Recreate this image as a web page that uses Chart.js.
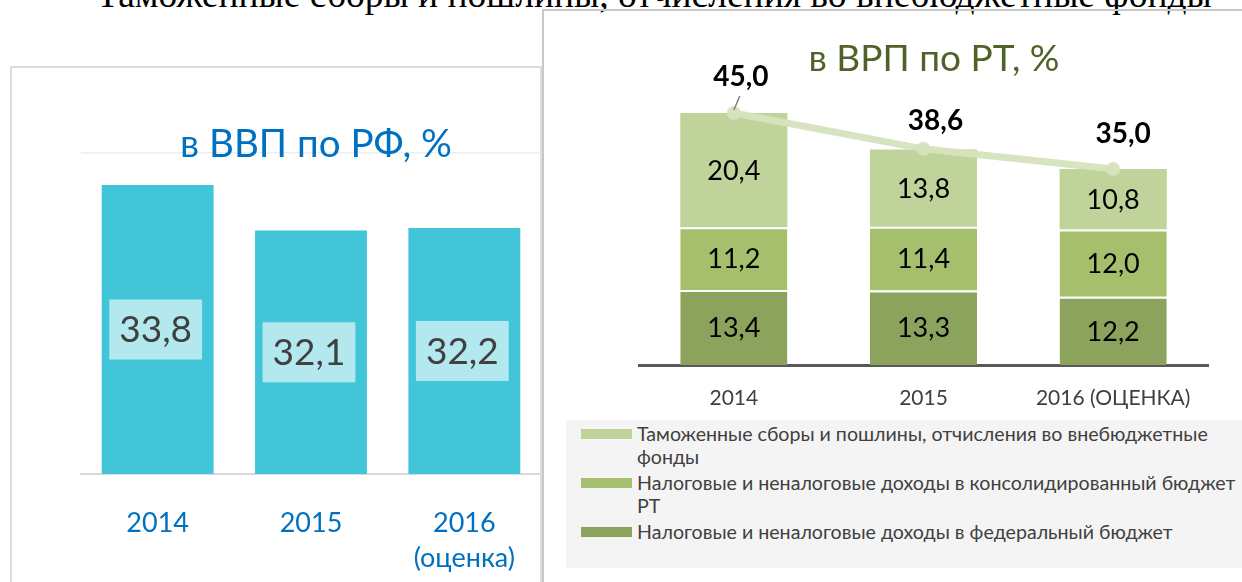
<!DOCTYPE html>
<html>
<head>
<meta charset="utf-8">
<script src="https://cdn.jsdelivr.net/npm/chart.js@4/dist/chart.umd.min.js"></script>
<style>
html,body{margin:0;padding:0;background:#fff;}
body{width:1242px;height:582px;position:relative;overflow:hidden;font-family:Lato,"Open Sans",sans-serif;}
#cap{position:absolute;left:654px;transform:translateX(-50%);top:-27px;font-family:"Liberation Serif","Times New Roman",serif;font-size:37.5px;line-height:1.15;color:#000;white-space:nowrap;}
#lp{position:absolute;left:10px;top:66px;width:532px;height:600px;border:2px solid #dcdcdc;box-sizing:border-box;}
#rp{position:absolute;left:542px;top:9px;width:760px;height:600px;border-left:2px solid #c8c8c8;border-top:2px solid #c8c8c8;}
.title{position:absolute;width:600px;text-align:center;line-height:1.2;white-space:nowrap;z-index:5;}
#lt{left:16px;top:119px;font-size:38.5px;color:#0070C0;}
#rt{left:634px;top:35px;font-size:37px;color:#4F6228;}
canvas{position:absolute;}
#cl{left:12px;top:68px;}
#cr{left:544px;top:12px;}
#legend{position:absolute;left:566px;top:420px;width:676px;height:148px;background:#f4f4f4;padding-top:2px;box-sizing:border-box;font-size:19.6px;line-height:23px;color:#404040;}
.item{position:relative;padding-left:71px;margin-bottom:3px;white-space:nowrap;}
.sw{position:absolute;left:15px;top:7px;width:51px;height:10px;}
</style>
</head>
<body>
<div id="cap"></div>
<div id="lp"></div>
<div id="rp"></div>
<div class="title" id="lt"></div>
<div class="title" id="rt"></div>
<canvas id="cl" width="529" height="514" style="width:529px;height:514px"></canvas>
<canvas id="cr" width="698" height="570" style="width:698px;height:570px"></canvas>
<div id="legend"></div>
<script>
// ---- data ----
const captionText = 'Таможенные сборы и пошлины, отчисления во внебюджетные фонды';
const leftTitle = 'в ВВП по РФ, %';
const rightTitle = 'в ВРП по РТ, %';
const leftCategories = ['2014', '2015', ['2016', '(оценка)']];
const leftValues = [33.8, 32.1, 32.2];
const rightCategories = ['2014', '2015', '2016 (ОЦЕНКА)'];
const federalValues = [13.4, 13.3, 12.2];
const regionalValues = [11.2, 11.4, 12.0];
const customsValues = [20.4, 13.8, 10.8];
const totalValues = [45.0, 38.6, 35.0];
const customsName = ['Таможенные сборы и пошлины, отчисления во внебюджетные', 'фонды'];
const regionalName = ['Налоговые и неналоговые доходы в консолидированный бюджет', 'РТ'];
const federalName = ['Налоговые и неналоговые доходы в федеральный бюджет'];
const totalName = 'Итого';

// ---- styles ----
const FONT = 'Lato, "Open Sans", sans-serif';
const C = {
  leftBar: '#43C5D9', leftLabelBg: '#B3E8EF', leftText: '#404040', leftAxis: '#0070C0',
  federal: '#8CA35D', regional: '#A6BF6C', customs: '#C0D39B', line: 'rgba(214,227,190,0.95)'
};
const fmt = v => v.toFixed(1).replace('.', ',');

document.getElementById('cap').textContent = captionText;
document.getElementById('lt').textContent = leftTitle;
document.getElementById('rt').textContent = rightTitle;

// ---- left chart ----
const leftLabelsPlugin = {
  id: 'leftValueBoxes',
  afterDatasetsDraw(chart) {
    const ctx = chart.ctx;
    const ds = chart.data.datasets[0];
    const xs = chart.scales.x, ys = chart.scales.y;
    const basePx = ys.getPixelForValue(ys.min);
    ctx.save();
    ctx.font = '37px ' + FONT;
    ctx.textAlign = 'center';
    ctx.textBaseline = 'middle';
    ds.data.forEach((v, i) => {
      const x = xs.getPixelForValue(i);
      const top = ys.getPixelForValue(v);
      const cy = (top + basePx) / 2;
      const txt = fmt(v);
      const w = ctx.measureText(txt).width + 20;
      const h = 60;
      ctx.fillStyle = C.leftLabelBg;
      ctx.fillRect(x - 2 - w / 2, cy - h / 2, w, h);
      ctx.fillStyle = C.leftText;
      ctx.fillText(txt, x - 2, cy + 1);
    });
    ctx.restore();
  }
};

new Chart(document.getElementById('cl'), {
  type: 'bar',
  data: {
    labels: leftCategories,
    datasets: [{
      label: leftTitle,
      data: leftValues,
      backgroundColor: C.leftBar,
      barPercentage: 0.73,
      categoryPercentage: 1
    }]
  },
  options: {
    responsive: false,
    animation: false,
    events: [],
    layout: { padding: { left: 69, right: 0, top: 85, bottom: 0 } },
    plugins: { legend: { display: false }, tooltip: { enabled: false } },
    scales: {
      x: {
        grid: { display: false },
        border: { display: true, color: '#d9d9d9', width: 2 },
        ticks: { color: C.leftAxis, font: { family: FONT, size: 27, lineHeight: 1.3 }, padding: 24, maxRotation: 0 },
        afterFit: s => { s.height = 108; }
      },
      y: {
        min: 23, max: 35,
        grid: { drawTicks: false, color: '#eeeeee', lineWidth: 1.5 },
        border: { display: false },
        ticks: { display: false },
        afterBuildTicks: s => { s.ticks = [{ value: 35 }]; },
        afterFit: s => { s.width = 0; }
      }
    }
  },
  plugins: [leftLabelsPlugin]
});

// ---- right chart ----
const rightLabels = {
  id: 'rightLabels',
  afterDatasetsDraw(chart, args, opts) {
    const ctx = chart.ctx;
    const xs = chart.scales.x, ys = chart.scales.y;
    ctx.save();
    ctx.textAlign = 'center';
    ctx.textBaseline = 'middle';
    const running = chart.data.labels.map(() => 0);
    chart.data.datasets.forEach((ds) => {
      if (ds.type === 'line') {
        ctx.font = 'bold 28px ' + FONT;
        ds.data.forEach((v, i) => {
          const px = xs.getPixelForValue(i), py = ys.getPixelForValue(v);
          const off = opts.totalOffsets[i];
          const lx = px + off[0], ly = py + off[1];
          if (opts.leader[i]) {
            ctx.strokeStyle = '#7f7f7f';
            ctx.lineWidth = 1.5;
            ctx.beginPath();
            ctx.moveTo(lx - 1, ly + 19);
            ctx.lineTo(px, py - 3);
            ctx.stroke();
          }
          ctx.fillStyle = '#000';
          ctx.fillText(fmt(v), lx, ly);
        });
      } else {
        ctx.font = '27px ' + FONT;
        ctx.fillStyle = '#000';
        ds.data.forEach((v, i) => {
          const b = ys.getPixelForValue(running[i]);
          running[i] += v;
          const t = ys.getPixelForValue(running[i]);
          ctx.fillText(fmt(v), xs.getPixelForValue(i), (b + t) / 2 + 1);
        });
      }
    });
    ctx.restore();
  }
};

const barCommon = { barPercentage: 0.565, categoryPercentage: 1, borderColor: '#ffffff', borderSkipped: false, order: 1, stack: 'bars' };
const sepBorder = { top: 2, left: 0, right: 0, bottom: 0 };

new Chart(document.getElementById('cr'), {
  type: 'bar',
  data: {
    labels: rightCategories,
    datasets: [
      Object.assign({ label: federalName.join(' '), data: federalValues, backgroundColor: C.federal, borderWidth: sepBorder }, barCommon),
      Object.assign({ label: regionalName.join(' '), data: regionalValues, backgroundColor: C.regional, borderWidth: sepBorder }, barCommon),
      Object.assign({ label: customsName.join(' '), data: customsValues, backgroundColor: C.customs, borderWidth: 0 }, barCommon),
      {
        type: 'line', label: totalName, data: totalValues, stack: 'total', order: 0,
        borderColor: C.line, backgroundColor: C.line, borderWidth: 7,
        pointRadius: 7, pointBorderWidth: 0, pointBackgroundColor: C.line,
        tension: 0, clip: false
      }
    ]
  },
  options: {
    responsive: false,
    animation: false,
    events: [],
    layout: { padding: { left: 95, right: 34, top: 73, bottom: 0 } },
    plugins: {
      legend: { display: false }, tooltip: { enabled: false },
      rightLabels: { totalOffsets: [[7, -36], [12, -28], [10, -35]], leader: [true, false, false] }
    },
    scales: {
      x: {
        stacked: true,
        grid: { display: false },
        border: { display: true, color: '#595959', width: 3 },
        ticks: { color: '#404040', font: { family: FONT, size: 21 }, padding: 13, maxRotation: 0 },
        afterFit: s => { s.height = 217; }
      },
      y: { stacked: true, min: 0, max: 50, display: false }
    }
  },
  plugins: [rightLabels]
});

// ---- legend (HTML, built from the series names) ----
const legendItems = [
  { lines: customsName, color: C.customs },
  { lines: regionalName, color: C.regional },
  { lines: federalName, color: C.federal }
];
const lg = document.getElementById('legend');
legendItems.forEach(it => {
  const d = document.createElement('div');
  d.className = 'item';
  const sw = document.createElement('div');
  sw.className = 'sw';
  sw.style.background = it.color;
  d.appendChild(sw);
  it.lines.forEach(line => {
    const l = document.createElement('div');
    l.textContent = line;
    d.appendChild(l);
  });
  lg.appendChild(d);
});
</script>
</body>
</html>
